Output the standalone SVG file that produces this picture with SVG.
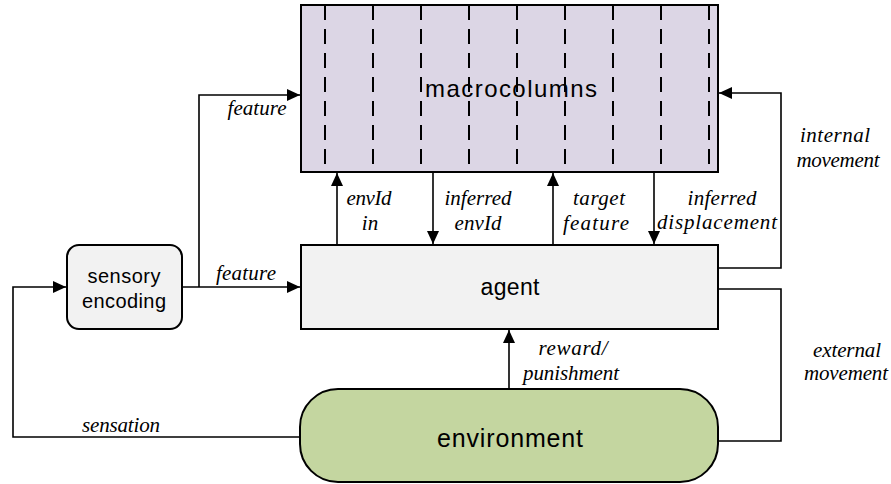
<svg xmlns="http://www.w3.org/2000/svg" width="891" height="484" viewBox="0 0 891 484">
  <style>
    .box { stroke: #000; stroke-width: 2; }
    .sans { font-family: "Liberation Sans", Arial, sans-serif; fill: #000; text-anchor: middle; }
    .lbl { font-family: "Liberation Serif", "Times New Roman", serif; font-style: italic; font-size: 21px; fill: #000; text-anchor: middle; }
    .wire { fill: none; stroke: #000; stroke-width: 1.6; }
    .arr { marker-end: url(#head); }
    .col { stroke: #000; stroke-width: 2; stroke-dasharray: 15 9; }
  </style>
  <defs>
    <marker id="head" markerUnits="userSpaceOnUse" markerWidth="13" markerHeight="12" refX="13" refY="6" orient="auto">
      <path d="M0,0 L13,6 L0,12 z" fill="#000"/>
    </marker>
  </defs>

  <!-- connectors -->
  <g id="connectors">
    <path class="wire arr" d="M300,437 H13 V287 H66"/>
    <path class="wire arr" d="M182,287 H300"/>
    <path class="wire arr" d="M199,287 V95 H300"/>
    <path class="wire arr" d="M337,245 V173"/>
    <path class="wire arr" d="M433,172 V244"/>
    <path class="wire arr" d="M553,245 V173"/>
    <path class="wire arr" d="M654,172 V244"/>
    <path class="wire arr" d="M718,268 H781 V93 H719"/>
    <path class="wire" d="M718,289 H781 V441 H718"/>
    <path class="wire arr" d="M509,389 V330"/>
  </g>

  <!-- macrocolumns with column separators -->
  <g id="macrocolumns">
    <rect class="box" x="301" y="5" width="417" height="167" fill="#dcd6e5"/>
    <line class="col" x1="325" y1="5" x2="325" y2="164"/>
    <line class="col" x1="373" y1="5" x2="373" y2="164"/>
    <line class="col" x1="421" y1="5" x2="421" y2="164"/>
    <line class="col" x1="469" y1="5" x2="469" y2="164"/>
    <line class="col" x1="517" y1="5" x2="517" y2="164"/>
    <line class="col" x1="565" y1="5" x2="565" y2="164"/>
    <line class="col" x1="613" y1="5" x2="613" y2="164"/>
    <line class="col" x1="661" y1="5" x2="661" y2="164"/>
    <line class="col" x1="709" y1="5" x2="709" y2="164"/>
    <text class="sans" x="511" y="97" font-size="24" textLength="172" lengthAdjust="spacing">macrocolumns</text>
  </g>

  <g id="agent">
    <rect class="box" x="301" y="245" width="417" height="84" fill="#f2f2f2"/>
    <text class="sans" x="510" y="295" font-size="23" textLength="59" lengthAdjust="spacing">agent</text>
  </g>

  <g id="sensory-encoding">
    <rect class="box" x="67" y="245" width="115" height="84" rx="12" fill="#f2f2f2"/>
    <text class="sans" x="124" y="283" font-size="20" textLength="73" lengthAdjust="spacing">sensory</text>
    <text class="sans" x="124" y="308" font-size="20" textLength="84" lengthAdjust="spacing">encoding</text>
  </g>

  <g id="environment">
    <rect class="box" x="300" y="389" width="418" height="93" rx="38" fill="#c4d6a0"/>
    <text class="sans" x="510" y="447" font-size="25" textLength="146" lengthAdjust="spacing">environment</text>
  </g>

  <!-- connector labels -->
  <g id="labels">
    <text class="lbl" x="257" y="115" textLength="59" lengthAdjust="spacing">feature</text>
    <text class="lbl" x="246" y="280" textLength="60" lengthAdjust="spacing">feature</text>
    <text class="lbl" x="369" y="205" textLength="45" lengthAdjust="spacing">envId</text>
    <text class="lbl" x="370" y="230">in</text>
    <text class="lbl" x="478" y="205" textLength="67" lengthAdjust="spacing">inferred</text>
    <text class="lbl" x="478" y="230" textLength="47" lengthAdjust="spacing">envId</text>
    <text class="lbl" x="599" y="205" textLength="52" lengthAdjust="spacing">target</text>
    <text class="lbl" x="596" y="230" textLength="66" lengthAdjust="spacing">feature</text>
    <text class="lbl" x="722" y="205" textLength="69" lengthAdjust="spacing">inferred</text>
    <text class="lbl" x="717" y="229" textLength="120" lengthAdjust="spacing">displacement</text>
    <text class="lbl" x="835" y="142" textLength="70" lengthAdjust="spacing">internal</text>
    <text class="lbl" x="838" y="167" textLength="83" lengthAdjust="spacing">movement</text>
    <text class="lbl" x="573" y="355" textLength="69" lengthAdjust="spacing">reward/</text>
    <text class="lbl" x="571" y="380" textLength="96" lengthAdjust="spacing">punishment</text>
    <text class="lbl" x="847" y="357" textLength="68" lengthAdjust="spacing">external</text>
    <text class="lbl" x="846" y="380" textLength="84" lengthAdjust="spacing">movement</text>
    <text class="lbl" x="121" y="432" textLength="78" lengthAdjust="spacing">sensation</text>
  </g>
</svg>
